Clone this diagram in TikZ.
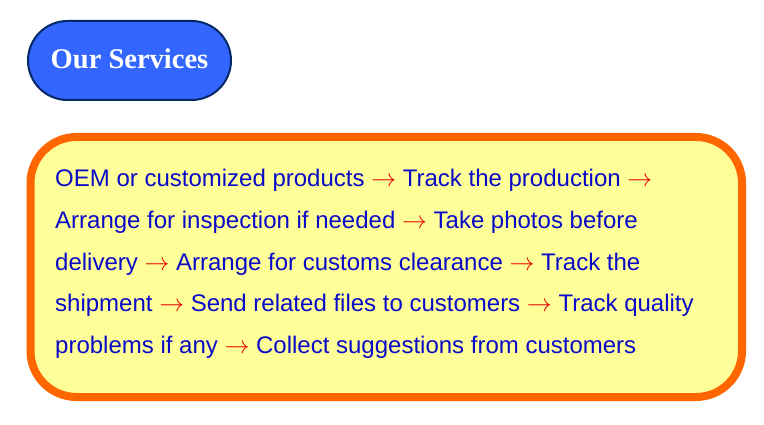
\documentclass[tikz,border=0pt]{standalone}
\usepackage{fontspec}
\setmainfont{Liberation Sans}
\newfontfamily\titlefont{Liberation Serif}
\definecolor{pillblue}{RGB}{51,102,255}
\definecolor{pillborder}{RGB}{0,40,100}
\definecolor{boxorange}{RGB}{255,102,0}
\definecolor{boxyellow}{RGB}{255,255,153}
\definecolor{textblue}{RGB}{10,10,200}
\definecolor{arrowred}{RGB}{230,0,0}
\newcommand\redarrow{\textcolor{arrowred}{$\rightarrow$}}
\begin{document}
\begin{tikzpicture}[x=1pt,y=-1pt,
  pill/.style={fill=pillblue, draw=pillborder, line width=2pt, rounded corners=39.5pt},
  bigbox/.style={fill=boxyellow, draw=boxorange, line width=8pt, rounded corners=46pt},
  titletext/.style={anchor=base, inner sep=0pt, text=white, font=\titlefont\bfseries\fontsize{28.5}{30}\selectfont},
  linetext/.style={anchor=base west, inner sep=0pt, text=textblue, font=\fontsize{24}{28}\selectfont}]
\useasboundingbox (0,0) rectangle (764,425);
\draw[pill] (28,21) rectangle (231,100);
\node[titletext] (title) at (129.5,69) {Our Services};
\draw[bigbox] (30.5,137) rectangle (742,397);
\node[linetext] (l1) at (55,187) {OEM or customized products \redarrow{} Track the production \redarrow};
\node[linetext] (l2) at (55,228.5) {Arrange for inspection if needed \redarrow{} Take photos before};
\node[linetext] (l3) at (55,270) {delivery \redarrow{} Arrange for customs clearance \redarrow{} Track the};
\node[linetext] (l4) at (55,311.5) {shipment \redarrow{} Send related files to customers \redarrow{} Track quality};
\node[linetext] (l5) at (55,353) {problems if any \redarrow{} Collect suggestions from customers};
\end{tikzpicture}
\end{document}
